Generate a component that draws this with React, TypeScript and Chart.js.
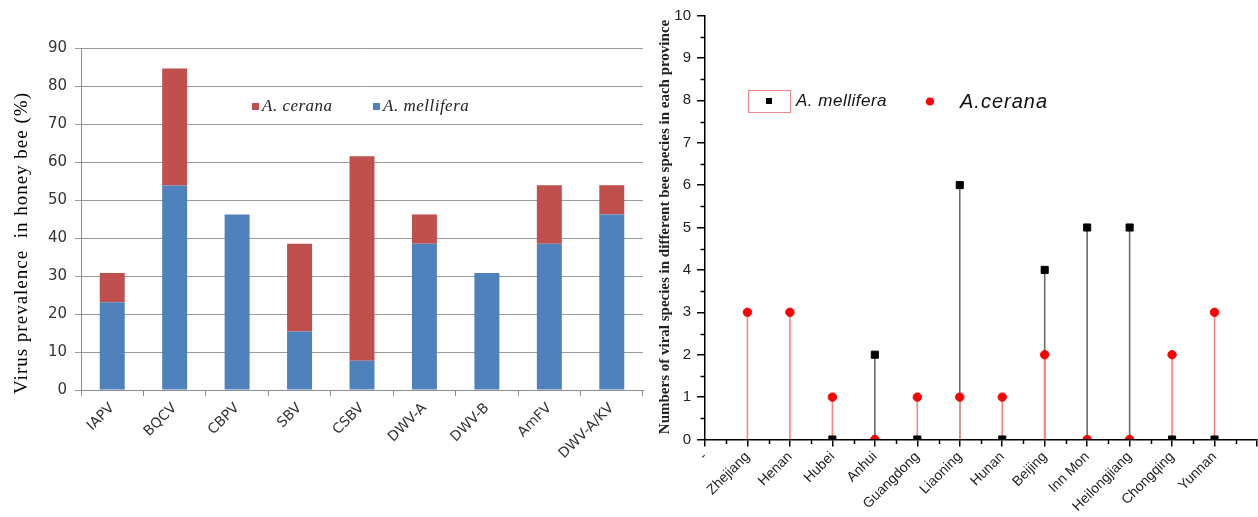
import React, { useEffect, useRef } from "react";
import { Chart, registerables } from "chart.js";

Chart.register(...registerables);

// ---------- Left chart data ----------
const viruses = ["IAPV", "BQCV", "CBPV", "SBV", "CSBV", "DWV-A", "DWV-B", "AmFV", "DWV-A/KV"];
const melliferaPrevalence = [23.1, 53.8, 46.2, 15.4, 7.7, 38.5, 30.8, 38.5, 46.2];
const ceranaPrevalence = [7.7, 30.8, 0, 23.1, 53.8, 7.7, 0, 15.4, 7.7];
const prevalenceMin = 0;
const prevalenceMax = 90;
const prevalenceStep = 10;
const leftTitle = "Virus prevalence  in honey bee (%)";

// ---------- Right chart data ----------
const provinces = [
  "Zhejiang", "Henan", "Hubei", "Anhui", "Guangdong", "Liaoning",
  "Hunan", "Beijing", "Inn Mon", "Heilongjiang", "Chongqing", "Yunnan",
];
const melliferaCounts: (number | null)[] = [null, null, 0, 2, 0, 6, 0, 4, 5, 5, 0, 0];
const ceranaCounts: (number | null)[] = [3, 3, 1, 0, 1, 1, 1, 2, 0, 0, 2, 3];
const countMin = 0;
const countMax = 10;
const rightTitle = "Numbers of viral species in different bee species in each province";
const firstTickLabel = "-";

const BLUE = "#4F81BD";
const RED = "#C0504D";
const RIGHT_OFFSET = 645;

const leftDecor = {
  id: "leftDecor",
  afterDraw(chart: any) {
    const ctx = chart.ctx as CanvasRenderingContext2D;
    // axis title
    ctx.save();
    ctx.translate(22, 243);
    ctx.rotate(-Math.PI / 2);
    ctx.font = '19px "Liberation Serif"';
    (ctx as any).letterSpacing = "1px";
    ctx.fillStyle = "#000";
    ctx.textAlign = "center";
    ctx.textBaseline = "middle";
    ctx.fillText(leftTitle, 0, 0);
    ctx.restore();
    // legend (cerana first, then mellifera)
    const items = [
      { ds: chart.data.datasets[1], x: 252 },
      { ds: chart.data.datasets[0], x: 373 },
    ];
    ctx.save();
    ctx.font = 'italic 17px "Liberation Serif"';
    (ctx as any).letterSpacing = "0.5px";
    ctx.textBaseline = "middle";
    ctx.textAlign = "left";
    items.forEach((it) => {
      ctx.fillStyle = it.ds.backgroundColor;
      ctx.fillRect(it.x, 103, 7, 7);
      ctx.fillStyle = "#222";
      ctx.fillText(it.ds.label, it.x + 10, 107);
    });
    ctx.restore();
  },
};

const stemPlugin = {
  id: "stems",
  beforeDatasetsDraw(chart: any) {
    const ctx = chart.ctx as CanvasRenderingContext2D;
    const y0 = chart.scales.y.getPixelForValue(0);
    chart.data.datasets.forEach((ds: any, i: number) => {
      const meta = chart.getDatasetMeta(i);
      ctx.save();
      ctx.strokeStyle = ds.stemColor;
      ctx.lineWidth = 1.6;
      meta.data.forEach((pt: any, j: number) => {
        if (ds.data[j].y == null) return;
        ctx.beginPath();
        ctx.moveTo(pt.x, pt.y);
        ctx.lineTo(pt.x, y0);
        ctx.stroke();
      });
      ctx.restore();
    });
  },
};

const rightDecor = {
  id: "rightDecor",
  afterDraw(chart: any) {
    const ctx = chart.ctx as CanvasRenderingContext2D;
    const xs = chart.scales.x;
    const ys = chart.scales.y;
    const { left, bottom } = chart.chartArea;
    // minor ticks
    ctx.save();
    ctx.strokeStyle = "#000";
    ctx.lineWidth = 1.5;
    for (let v = countMin + 0.5; v < countMax; v += 1) {
      const y = Math.round(ys.getPixelForValue(v)) + 0.5;
      ctx.beginPath();
      ctx.moveTo(left, y);
      ctx.lineTo(left - 4.5, y);
      ctx.stroke();
    }
    for (let v = 0.5; v < provinces.length + 1; v += 1) {
      const x = Math.round(xs.getPixelForValue(v)) + 0.5;
      ctx.beginPath();
      ctx.moveTo(x, bottom);
      ctx.lineTo(x, bottom + 4.5);
      ctx.stroke();
    }
    ctx.restore();
    // axis title
    ctx.save();
    ctx.translate(665 - RIGHT_OFFSET, 227);
    ctx.rotate(-Math.PI / 2);
    ctx.font = 'bold 15px "Liberation Serif"';
    ctx.fillStyle = "#222";
    ctx.textAlign = "center";
    ctx.textBaseline = "middle";
    ctx.fillText(rightTitle, 0, 0);
    ctx.restore();
    // legend
    const mel = chart.data.datasets[0];
    const cer = chart.data.datasets[1];
    ctx.save();
    ctx.strokeStyle = "#f08a8a";
    ctx.lineWidth = 1;
    ctx.strokeRect(748.5 - RIGHT_OFFSET, 90.5, 42, 22);
    ctx.fillStyle = "#000";
    ctx.fillRect(766 - RIGHT_OFFSET, 98, 6, 6);
    ctx.fillStyle = "#ff0000";
    ctx.beginPath();
    ctx.arc(930 - RIGHT_OFFSET, 101.5, 4, 0, Math.PI * 2);
    ctx.fill();
    ctx.fillStyle = "#111";
    ctx.textBaseline = "middle";
    ctx.textAlign = "left";
    ctx.font = 'italic 17px "Liberation Sans"';
    (ctx as any).letterSpacing = "0.5px";
    ctx.fillText(mel.label, 796 - RIGHT_OFFSET, 101);
    ctx.font = 'italic 20px "Liberation Sans"';
    (ctx as any).letterSpacing = "1px";
    ctx.fillText(cer.label, 960 - RIGHT_OFFSET, 102);
    ctx.restore();
  },
};

function leftConfig(): any {
  return {
    type: "bar",
    data: {
      labels: viruses,
      datasets: [
        {
          label: "A. mellifera",
          data: melliferaPrevalence,
          backgroundColor: BLUE,
          barPercentage: 0.4,
          categoryPercentage: 1,
        },
        {
          label: "A. cerana",
          data: ceranaPrevalence,
          backgroundColor: RED,
          barPercentage: 0.4,
          categoryPercentage: 1,
        },
      ],
    },
    options: {
      responsive: false,
      animation: false,
      devicePixelRatio: 1,
      layout: { padding: { top: 48, right: 7, left: 0, bottom: 0 } },
      plugins: { legend: { display: false }, tooltip: { enabled: false } },
      scales: {
        x: {
          stacked: true,
          afterFit: (s: any) => {
            s.height = 127;
            s.paddingRight = 0;
            s.paddingLeft = 0;
          },
          grid: { drawOnChartArea: false, tickLength: 6, color: "#8c8c8c", offset: true },
          border: { color: "#8c8c8c", width: 1 },
          ticks: {
            minRotation: 45,
            maxRotation: 45,
            autoSkip: false,
            padding: 4,
            color: "#333",
            font: { family: "DejaVu Sans", size: 14 },
          },
        },
        y: {
          stacked: true,
          min: prevalenceMin,
          max: prevalenceMax,
          afterFit: (s: any) => { s.width = 81; },
          grid: { color: "#999", lineWidth: 1, tickLength: 6 },
          border: { color: "#8c8c8c", width: 1 },
          ticks: {
            stepSize: prevalenceStep,
            padding: 8,
            color: "#333",
            font: { family: "DejaVu Sans", size: 15 },
          },
        },
      },
    },
    plugins: [leftDecor],
  };
}

function rightConfig(): any {
  return {
    type: "scatter",
    data: {
      datasets: [
        {
          label: "A. mellifera",
          data: provinces.map((_, i) => ({ x: i + 1, y: melliferaCounts[i] })),
          pointStyle: "rect",
          pointRadius: 5,
          pointBackgroundColor: "#000",
          pointBorderColor: "#000",
          pointBorderWidth: 1,
          stemColor: "#6a6a6a",
          order: 2,
          clip: { left: 8, right: 8, top: 8, bottom: 0 },
        },
        {
          label: "A.cerana",
          data: provinces.map((_, i) => ({ x: i + 1, y: ceranaCounts[i] })),
          pointStyle: "circle",
          pointRadius: 4.2,
          pointBackgroundColor: "#ff0000",
          pointBorderColor: "#ff0000",
          pointBorderWidth: 1,
          stemColor: "#ff8080",
          order: 1,
          clip: { left: 8, right: 8, top: 8, bottom: 0 },
        },
      ],
    },
    options: {
      responsive: false,
      animation: false,
      devicePixelRatio: 1,
      layout: { padding: { top: 15.5, right: 0, left: 0, bottom: 0 } },
      plugins: { legend: { display: false }, tooltip: { enabled: false } },
      scales: {
        x: {
          type: "linear",
          min: 0,
          max: provinces.length + 1,
          afterFit: (s: any) => {
            s.height = 77.5;
            s.paddingRight = 0;
            s.paddingLeft = 0;
          },
          afterBuildTicks: (s: any) => {
            s.ticks = Array.from({ length: provinces.length + 2 }, (_, i) => ({ value: i }));
          },
          grid: { drawOnChartArea: false, tickLength: 7, color: "#000", lineWidth: 1.5, z: 1 },
          border: { color: "#000", width: 1.5, z: 1 },
          ticks: {
            minRotation: 45,
            maxRotation: 45,
            autoSkip: false,
            padding: 2,
            color: "#222",
            font: { family: "Liberation Sans", size: 14 },
            callback: (v: number) =>
              v === 0 ? firstTickLabel : v <= provinces.length ? provinces[v - 1] : "",
          },
        },
        y: {
          min: countMin,
          max: countMax,
          afterFit: (s: any) => { s.width = 60; },
          grid: { drawOnChartArea: false, tickLength: 8, color: "#000", lineWidth: 1.5, z: 1 },
          border: { color: "#000", width: 1.5, z: 1 },
          ticks: {
            stepSize: 1,
            padding: 6,
            color: "#222",
            font: { family: "Liberation Sans", size: 15 },
          },
        },
      },
    },
    plugins: [stemPlugin, rightDecor],
  };
}

export default function App() {
  const leftRef = useRef<HTMLCanvasElement>(null);
  const rightRef = useRef<HTMLCanvasElement>(null);
  useEffect(() => {
    const c1 = new Chart(leftRef.current!, leftConfig());
    const c2 = new Chart(rightRef.current!, rightConfig());
    return () => {
      c1.destroy();
      c2.destroy();
    };
  }, []);
  return (
    <div
      style={{
        position: "fixed",
        left: 0,
        top: 0,
        width: 1258,
        height: 517,
        background: "#fff",
        overflow: "hidden",
      }}
    >
      <canvas ref={leftRef} width={650} height={517} style={{ position: "absolute", left: 0, top: 0 }} />
      <canvas
        ref={rightRef}
        width={618}
        height={517}
        style={{ position: "absolute", left: RIGHT_OFFSET, top: 0 }}
      />
    </div>
  );
}
